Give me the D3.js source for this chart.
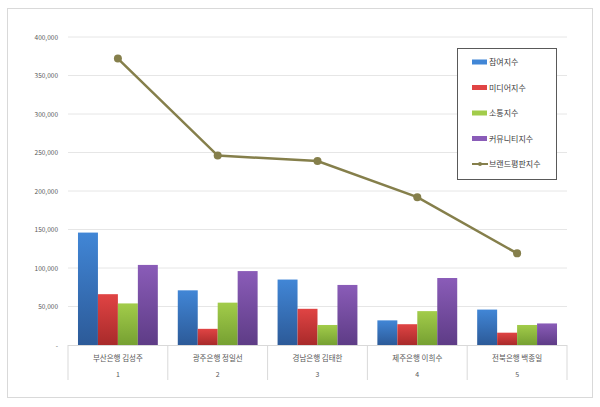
<!DOCTYPE html>
<html><head><meta charset="utf-8">
<script src="https://cdn.jsdelivr.net/npm/d3@7"></script>
<style>body{margin:0;background:#fff}svg{font-family:"Noto Sans CJK KR","Noto Sans",sans-serif}</style>
</head><body><svg id="c" width="600" height="407"></svg>
<script>
const categories=["부산은행 김성주","광주은행 정일선","경남은행 김태한","제주은행 이희수","전북은행 백종일"];
const ranks=["1","2","3","4","5"];
const seriesNames=["참여지수","미디어지수","소통지수","커뮤니티지수"];
const participation=[146000,71000,85000,32000,46000];
const media=[66000,21000,47000,27000,16000];
const communication=[54000,55000,26000,44000,26000];
const community=[104000,96000,78000,87000,28000];
const lineName="브랜드평판지수";
const brand=[372000,246000,239000,192000,119000];
const yTicks=[0,50000,100000,150000,200000,250000,300000,350000,400000];
const colors=[["#4186d6","#2c5a98"],["#e04444","#a82a2a"],["#a2cc4a","#76a032"],["#8a5cb8","#5e3c86"]];
const lineColor="#857f4b";

const svg=d3.select("#c");
svg.append("rect").attr("x",7.5).attr("y",8.5).attr("width",585).attr("height",389).attr("fill","#fff").attr("stroke","#d9d9d9");
const defs=svg.append("defs");
colors.forEach((c,i)=>{const g=defs.append("linearGradient").attr("id","g"+i).attr("x1",0).attr("y1",0).attr("x2",0).attr("y2",1);
g.append("stop").attr("offset","0%").attr("stop-color",c[0]);g.append("stop").attr("offset","100%").attr("stop-color",c[1]);});
const L=68,R=567,T=37,B=345;
const y=d3.scaleLinear().domain([0,400000]).range([B,T]);
const x=d3.scaleBand().domain(categories).range([L,R]);
const xs=d3.scaleBand().domain(d3.range(4)).range([0,x.bandwidth()]).paddingOuter(0.5).paddingInner(0);
svg.append("g").selectAll("line").data(yTicks.slice(1)).join("line").attr("x1",L).attr("x2",R).attr("y1",d=>y(d)).attr("y2",d=>y(d)).attr("stroke","#e6e6e6");
svg.append("g").selectAll("text").data(yTicks).join("text").attr("x",58).attr("y",d=>y(d)+2.5).attr("text-anchor","end").attr("font-size",6.5).attr("fill","#595959").text(d=>d===0?"-":d3.format(",")(d));
const all=[participation,media,communication,community];
categories.forEach((c,ci)=>{all.forEach((s,si)=>{svg.append("rect").attr("x",x(c)+xs(si)).attr("width",xs.bandwidth()).attr("y",y(s[ci])).attr("height",B-y(s[ci])).attr("fill","url(#g"+si+")");});});
// axis
svg.append("line").attr("x1",L).attr("x2",R).attr("y1",B+0.5).attr("y2",B+0.5).attr("stroke","#d9d9d9");
const bounds=categories.map(c=>x(c)).concat([R]);
svg.append("g").selectAll("line").data(bounds).join("line").attr("x1",d=>d).attr("x2",d=>d).attr("y1",B).attr("y2",380).attr("stroke","#d9d9d9");
svg.append("line").attr("x1",L).attr("x2",L+1).attr("y1",0).attr("y2",0);
svg.append("g").selectAll("text").data(categories).join("text").attr("x",d=>x(d)+x.bandwidth()/2).attr("y",361).attr("text-anchor","middle").attr("font-size",7.5).attr("fill","#595959").text(d=>d);
svg.append("g").selectAll("text").data(ranks).join("text").attr("x",(d,i)=>x(categories[i])+x.bandwidth()/2).attr("y",377).attr("text-anchor","middle").attr("font-size",7).attr("fill","#595959").text(d=>d);
// line
const line=d3.line().x((d,i)=>x(categories[i])+x.bandwidth()/2).y(d=>y(d));
svg.append("path").datum(brand).attr("d",line).attr("fill","none").attr("stroke",lineColor).attr("stroke-width",2.5);
svg.append("g").selectAll("circle").data(brand).join("circle").attr("cx",(d,i)=>x(categories[i])+x.bandwidth()/2).attr("cy",d=>y(d)).attr("r",4).attr("fill",lineColor);
// legend
const lg=svg.append("g");
lg.append("rect").attr("x",457.5).attr("y",48.5).attr("width",99).attr("height",131).attr("fill","#fff").attr("stroke","#595959");
const names=seriesNames.concat([lineName]);
names.forEach((n,i)=>{const yy=62+i*25.5;
if(i<4) lg.append("rect").attr("x",472).attr("y",yy-2.5).attr("width",15).attr("height",5).attr("fill",colors[i][0]);
else{lg.append("line").attr("x1",472).attr("x2",488).attr("y1",yy).attr("y2",yy).attr("stroke",lineColor).attr("stroke-width",2);lg.append("circle").attr("cx",480).attr("cy",yy).attr("r",2).attr("fill",lineColor);}
lg.append("text").attr("x",489).attr("y",yy+3).attr("font-size",8).attr("fill","#404040").text(n);});
</script></body></html>
